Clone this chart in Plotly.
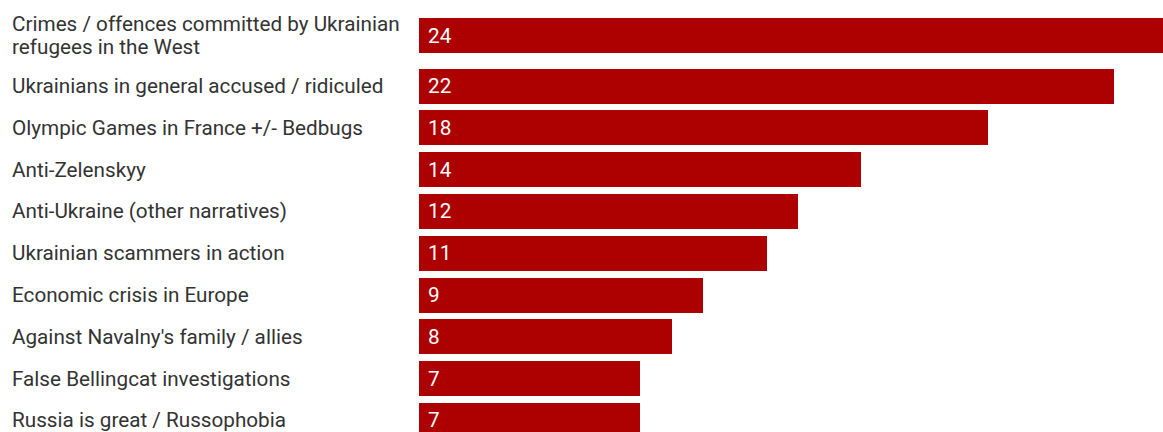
import plotly.graph_objects as go

# Narrative categories and number of occurrences
categories = [
    "Crimes / offences committed by Ukrainian<br>refugees in the West",
    "Ukrainians in general accused / ridiculed",
    "Olympic Games in France +/- Bedbugs",
    "Anti-Zelenskyy",
    "Anti-Ukraine (other narratives)",
    "Ukrainian scammers in action",
    "Economic crisis in Europe",
    "Against Navalny's family / allies",
    "False Bellingcat investigations",
    "Russia is great / Russophobia",
]
counts = [24, 22, 18, 14, 12, 11, 9, 8, 7, 7]

BAR_COLOR = "#ad0000"
TEXT_COLOR = "#333333"
FONT = "Roboto, 'Open Sans', sans-serif"
FONT_SIZE = 20.7
LINE_PX = 23           # line spacing of wrapped labels

W, H = 1163, 432
ROW_PX = 41.8          # height of a single-line row
EXTRA_LINE = 0.42      # additional row height for each wrapped label line
BAR_W = 0.837          # bar thickness in row units
LABEL_X = 11           # left edge of the category labels (px)
PLOT_X0 = 418.5        # left edge of the bars (px)
PX_PER_UNIT = 31.6     # horizontal scale (px per occurrence)

# Row centres: a wrapped label makes its row taller, split above and below
extras = [c.count("<br>") * EXTRA_LINE for c in categories]
positions = [0.0]
for i in range(1, len(categories)):
    positions.append(positions[-1] + 1 + (extras[i - 1] + extras[i]) / 2)

y_top = positions[0] - 35.5 / ROW_PX
y_bottom = y_top + H / ROW_PX
x_max = (W - PLOT_X0) / PX_PER_UNIT

fig = go.Figure(
    go.Bar(
        x=counts,
        y=positions,
        orientation="h",
        width=BAR_W,
        marker=dict(color=BAR_COLOR, line=dict(width=0)),
        hoverinfo="skip",
    )
)

annotations = []
for pos, cat, v in zip(positions, categories, counts):
    lines = cat.split("<br>")
    n = len(lines)
    for k, line in enumerate(lines):
        annotations.append(dict(
            x=LABEL_X / W, xref="paper", y=pos, yref="y",
            yshift=((n - 1) / 2 - k) * LINE_PX,
            text=line, showarrow=False, xanchor="left", yanchor="middle",
            align="left",
            font=dict(family=FONT, size=FONT_SIZE, color=TEXT_COLOR),
            borderpad=0,
        ))
    annotations.append(dict(
        x=0, xref="x", y=pos, yref="y",
        text=str(v), showarrow=False, xanchor="left", yanchor="middle",
        xshift=8, font=dict(family=FONT, size=FONT_SIZE, color="#ffffff"),
        borderpad=0,
    ))

fig.update_layout(
    width=W, height=H,
    margin=dict(l=0, r=0, t=0, b=0),
    paper_bgcolor="#ffffff", plot_bgcolor="#ffffff",
    showlegend=False,
    xaxis=dict(domain=[PLOT_X0 / W, 1], range=[0, x_max], visible=False,
               fixedrange=True),
    yaxis=dict(range=[y_bottom, y_top], visible=False, fixedrange=True),
    annotations=annotations,
    bargap=0,
)

fig.write_html("out.html", config={"displayModeBar": False})
